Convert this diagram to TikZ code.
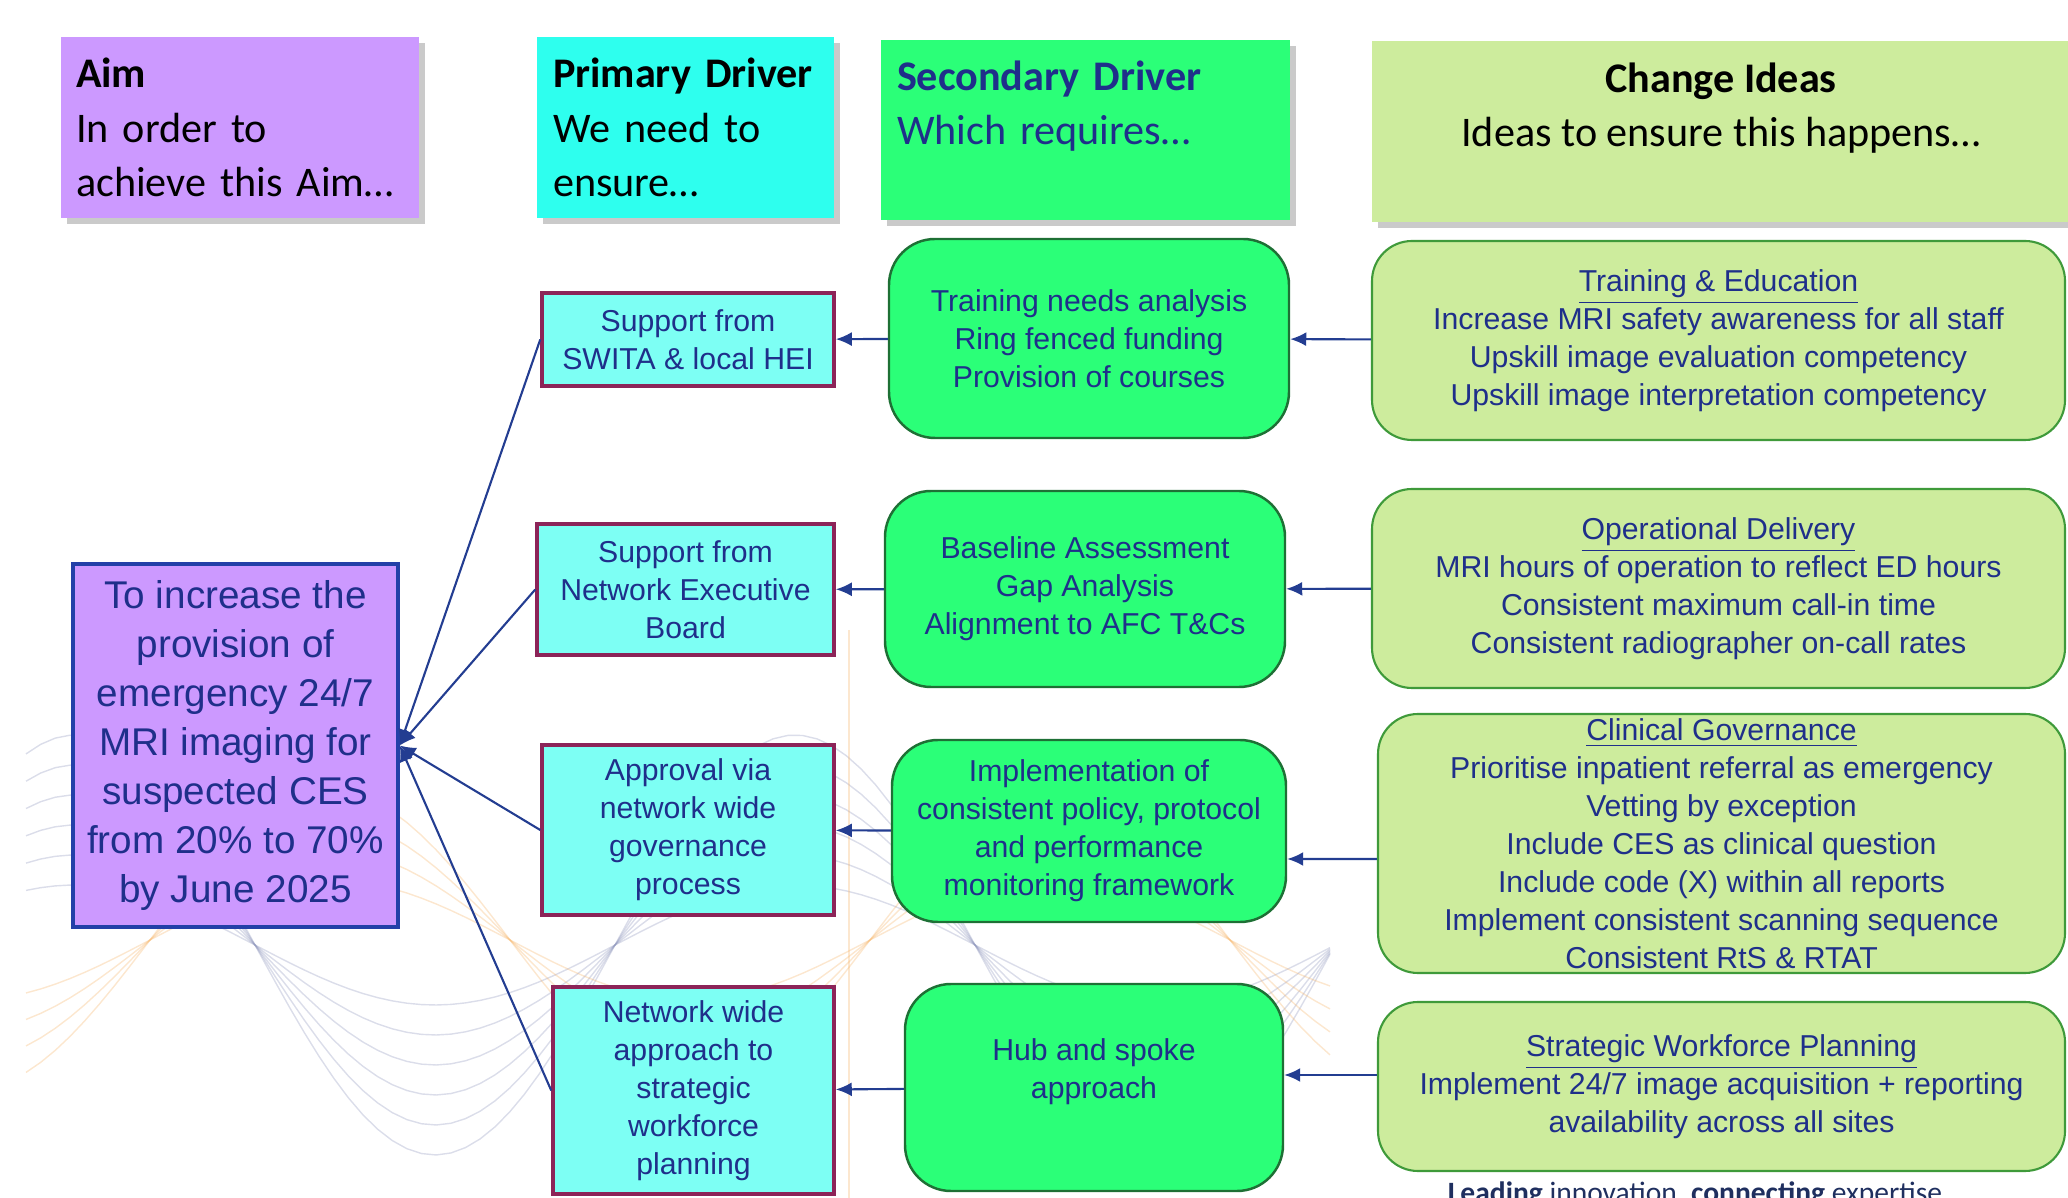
\documentclass[tikz,border=0pt]{standalone}
\usepackage{fontspec}
\setmainfont{Liberation Sans}
\newfontfamily\headfont{Carlito}
\usetikzlibrary{arrows.meta,shadows}
\definecolor{aimpurple}{HTML}{CC99FF}
\definecolor{primcyan}{HTML}{2EFFEE}
\definecolor{primlight}{HTML}{7DFFF4}
\definecolor{secgreen}{HTML}{2BFF78}
\definecolor{chglime}{HTML}{CDEC9D}
\definecolor{inkblue}{HTML}{1F2F8A}
\definecolor{aimedge}{HTML}{2340A8}
\definecolor{primedge}{HTML}{8C2458}
\definecolor{secedge}{HTML}{1E7035}
\definecolor{chgedge}{HTML}{3F9A3A}
\definecolor{linkblue}{HTML}{233D91}
\definecolor{footnavy}{HTML}{1F2F5F}
\definecolor{wavegray}{HTML}{8890B8}
\definecolor{waveorange}{HTML}{F5B060}
\tikzstyle{every node}=[font=\fontsize{8.6}{10.8}\selectfont,text=inkblue]
\tikzstyle{header}=[inner sep=0pt,text=black,
  font=\headfont\fontsize{12}{15.4}\selectfont,
  drop shadow={shadow xshift=0.6mm,shadow yshift=-0.6mm,fill=black!35,opacity=0.6}]
\tikzstyle{aimbox}=[draw=aimedge,line width=1pt,fill=aimpurple,align=center,inner sep=0pt,
  font=\fontsize{11}{13.9}\selectfont]
\tikzstyle{primbox}=[draw=primedge,line width=1pt,fill=primlight,align=center,inner sep=0pt]
\tikzstyle{secbox}=[draw=secedge,line width=0.7pt,fill=secgreen,rounded corners=4.6mm,align=center,inner sep=0pt]
\tikzstyle{chgbox}=[draw=chgedge,line width=0.6pt,fill=chglime,rounded corners=4mm,align=center,inner sep=0pt]
\tikzstyle{link}=[draw=linkblue,line width=0.6pt,-{Latex[length=1.6mm,width=1.4mm]}]
\tikzstyle{wave}=[line width=0.4pt,opacity=0.3]

\begin{document}
\begin{tikzpicture}[x=0.1mm,y=-0.1mm]
    \useasboundingbox (0,0) rectangle (2068,1198);

    % faint background waves
    \draw[wave,wavegray] plot[domain=26:1330,samples=90] (\x,{945+60*cos((\x-435)*0.5)});
    \draw[wave,wavegray] plot[domain=26:1330,samples=90] (\x,{945+90*cos((\x-435)*0.5)});
    \draw[wave,wavegray] plot[domain=26:1330,samples=90] (\x,{945+120*cos((\x-435)*0.5)});
    \draw[wave,wavegray] plot[domain=26:1330,samples=90] (\x,{945+150*cos((\x-435)*0.5)});
    \draw[wave,wavegray] plot[domain=26:1330,samples=90] (\x,{945+180*cos((\x-435)*0.5)});
    \draw[wave,wavegray] plot[domain=26:1330,samples=90] (\x,{945+210*cos((\x-435)*0.5)});
    \draw[wave,waveorange] plot[domain=26:1330,samples=90] (\x,{940-60*cos((\x-330)*0.5)});
    \draw[wave,waveorange] plot[domain=26:1330,samples=90] (\x,{940-90*cos((\x-330)*0.5)});
    \draw[wave,waveorange] plot[domain=26:1330,samples=90] (\x,{940-120*cos((\x-330)*0.5)});
    \draw[wave,waveorange] plot[domain=26:1330,samples=90] (\x,{940-150*cos((\x-330)*0.5)});
    \draw[wave,waveorange] (849,630) -- (849,1198);

    % column headers
    \node[header,fill=aimpurple,minimum width=35.8mm,minimum height=18.1mm,
      text width=32.8mm,align=left] (hAim) at (240,127.5)
      {\textbf{Aim}\\In order to\\achieve this Aim\dots};
    \node[header,fill=primcyan,minimum width=29.7mm,minimum height=18.1mm,
      text width=26.5mm,align=left] (hPrim) at (685.5,127.5)
      {\textbf{Primary Driver}\\We need to\\ensure\dots};
    \node[header,fill=secgreen,text=inkblue,minimum width=40.9mm,minimum height=18mm,
      text width=37.7mm,align=left] (hSec) at (1085.5,130)
      {\textbf{Secondary Driver}\\Which requires\dots\\~};
    \node[header,fill=chglime,minimum width=69.8mm,minimum height=18.1mm,
      align=center] (hChg) at (1721,131.5)
      {\textbf{Change Ideas}\\Ideas to ensure this happens\dots\\~};

    % aim
    \node[aimbox,minimum width=32.5mm,minimum height=36.3mm] (aim) at (235.5,745.5)
      {To increase the\\provision of\\emergency 24/7\\MRI imaging for\\suspected CES\\from 20\% to 70\%\\by June 2025};

    % primary drivers
    \node[primbox,minimum width=29.2mm,minimum height=9.3mm] (p1) at (688,339.5)
      {Support from\\SWITA \& local HEI};
    \node[primbox,minimum width=29.7mm,minimum height=13.1mm] (p2) at (685.5,589.5)
      {Support from\\Network Executive\\Board};
    \node[primbox,minimum width=29.2mm,minimum height=17mm] (p3) at (688,830)
      {Approval via\\network wide\\governance\\process};
    \node[primbox,minimum width=28.1mm,minimum height=20.7mm] (p4) at (693.5,1090.5)
      {Network wide\\approach to\\strategic\\workforce\\planning};

    % secondary drivers
    \node[secbox,minimum width=40mm,minimum height=19.9mm] (s1) at (1089,338.5)
      {Training needs analysis\\Ring fenced funding\\Provision of courses};
    \node[secbox,minimum width=40mm,minimum height=19.6mm] (s2) at (1085,589)
      {Baseline Assessment\\Gap Analysis\\Alignment to AFC T\&Cs};
    \node[secbox,minimum width=39.4mm,minimum height=18.2mm] (s3) at (1089,831)
      {Implementation of\\consistent policy, protocol\\and performance\\monitoring framework};
    \node[secbox,minimum width=37.8mm,minimum height=20.7mm] (s4) at (1094,1087.5)
      {Hub and spoke\\approach\\~};

    % change ideas
    \node[chgbox,minimum width=69.3mm,minimum height=19.9mm] (c1) at (1718.5,340.5)
      {\underline{Training \& Education}\\Increase MRI safety awareness for all staff\\
       Upskill image evaluation competency\\Upskill image interpretation competency};
    \node[chgbox,minimum width=69.3mm,minimum height=19.9mm] (c2) at (1718.5,588.5)
      {\underline{Operational Delivery}\\MRI hours of operation to reflect ED hours\\
       Consistent maximum call-in time\\Consistent radiographer on-call rates};
    \node[chgbox,minimum width=68.7mm,minimum height=25.9mm] (c3) at (1721.5,843.5)
      {\underline{Clinical Governance}\\Prioritise inpatient referral as emergency\\
       Vetting by exception\\Include CES as clinical question\\Include code (X) within all reports\\
       Implement consistent scanning sequence\\Consistent RtS \& RTAT};
    \node[chgbox,minimum width=68.7mm,minimum height=16.9mm] (c4) at (1721.5,1086.5)
      {\underline{Strategic Workforce Planning}\\Implement 24/7 image acquisition + reporting\\
       availability across all sites};

    % tagline (cut by the page edge)
    \node[font=\headfont\fontsize{8.4}{10}\selectfont,text=footnavy,anchor=north,inner sep=0pt]
      (tagline) at (1695,1181) {\textbf{Leading} innovation, \textbf{connecting} expertise};

    % primary drivers -> aim
    \draw[link] (p1.west) -- (aim.east);
    \draw[link] (p2.west) -- (aim.east);
    \draw[link] (p3.west) -- (aim.east);
    \draw[link] (p4.west) -- (aim.east);

    % secondary -> primary
    \draw[link] (s1) -- (p1);
    \draw[link] (s2) -- (p2);
    \draw[link] (s3) -- (p3);
    \draw[link] (s4) -- (p4);

    % change ideas -> secondary
    \draw[link] (c1) -- (s1);
    \draw[link] (c2) -- (s2);
    \draw[link] ([yshift=-1.55mm]c3.west) -- ([yshift=-2.8mm]s3.east);
    \draw[link] ([yshift=1.15mm]c4.west) -- ([yshift=1.25mm]s4.east);
\end{tikzpicture}
\end{document}
